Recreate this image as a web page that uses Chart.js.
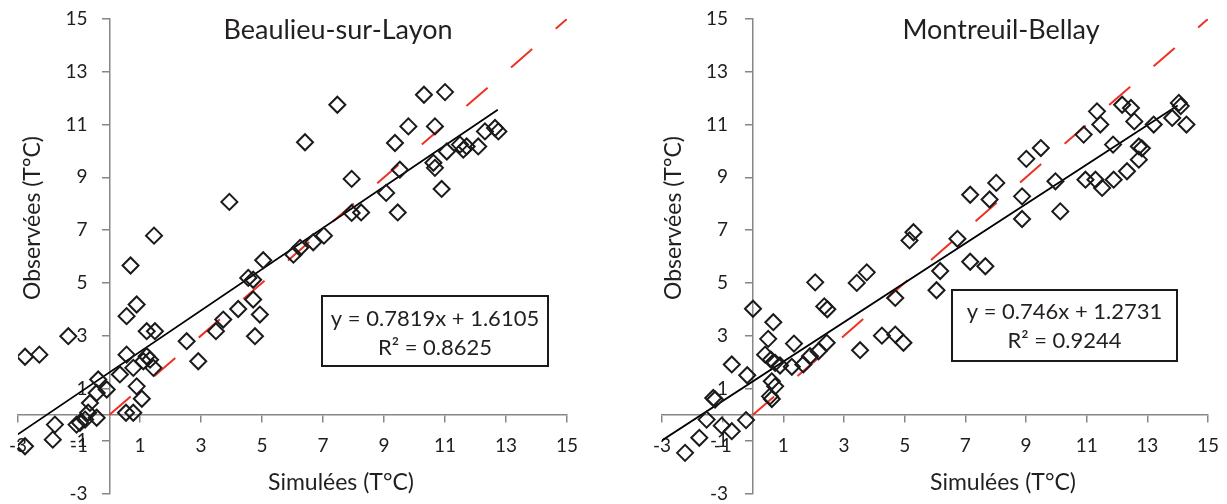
<!DOCTYPE html>
<html>
<head>
<meta charset="utf-8">
<script src="https://cdn.jsdelivr.net/npm/chart.js@4.4.0/dist/chart.umd.min.js"></script>
<style>
  body { margin: 0; background: #fff; }
  .panel { position: absolute; top: 0; height: 504px; }
</style>
</head>
<body>
<div class="panel" style="left:0;width:614px"><canvas id="leftChart"></canvas></div>
<div class="panel" style="left:614px;width:613px"><canvas id="rightChart"></canvas></div>
<script>
// Beaulieu-sur-Layon : simulées (x) / observées (y)
const beaulieuSim = [-2.77,-2.30,-1.35,-2.77,-1.86,-1.79,-1.08,-0.97,-0.80,-0.70,
  -0.42,-0.64,-0.42,-0.37,-0.09,0.56,0.89,0.56,0.34,0.78,
  0.89,1.06,0.54,0.78,1.22,1.33,1.11,1.44,1.22,1.49,
  0.69,1.46,2.53,2.91,3.49,3.73,4.22,4.77,4.93,4.71,
  3.93,5.04,4.55,4.71,6.03,6.25,6.68,7.03,6.41,7.47,
  10.31,11.00,7.94,9.80,10.67,9.36,9.52,9.07,9.45,10.89,
  10.62,10.67,11.06,11.49,11.60,11.71,12.09,12.31,12.64,12.75,
  7.94,8.25];
const beaulieuObs = [2.20,2.28,2.98,-1.19,-0.94,-0.37,-0.37,-0.30,-0.18,0.08,
  -0.11,0.45,0.83,1.34,0.96,3.74,4.18,2.28,1.53,1.78,
  1.08,0.61,0.08,0.08,2.22,2.09,2.03,1.78,3.17,3.17,
  5.66,6.79,2.79,2.03,3.17,3.61,4.01,2.98,3.80,4.37,
  8.07,5.86,5.19,5.12,6.07,6.33,6.54,6.79,10.33,11.75,
  12.13,12.23,8.94,10.93,10.93,10.30,9.29,8.41,7.67,8.56,
  9.55,9.36,9.98,10.24,10.05,10.17,10.17,10.74,10.87,10.74,
  7.65,7.67];

// Montreuil-Bellay
const montreuilSim = [0.00,0.67,0.50,0.40,0.59,0.73,0.89,1.28,1.35,-0.70,
  -0.19,0.62,0.73,0.56,0.62,-1.31,-1.25,-1.53,-1.03,-0.70,
  -0.23,-1.77,-2.24,1.66,1.88,2.16,2.43,2.05,2.35,2.45,
  3.42,3.75,3.53,4.25,4.69,4.69,4.96,5.29,5.16,6.74,
  6.17,6.05,7.16,7.66,7.16,7.80,8.02,8.87,8.87,9.01,
  9.49,9.97,10.13,10.90,10.96,11.29,11.51,11.34,11.45,11.87,
  11.89,12.33,12.17,12.46,12.57,12.72,12.82,12.72,13.21,13.82,
  14.04,14.10,14.29];
const montreuilObs = [4.02,3.51,2.88,2.28,2.09,1.97,1.87,1.82,2.70,1.91,
  1.50,1.27,1.08,0.70,0.60,0.64,0.58,-0.18,-0.41,-0.62,
  -0.20,-0.87,-1.44,1.91,2.22,2.41,2.73,5.02,4.11,4.00,
  5.00,5.40,2.45,3.00,4.43,3.04,2.73,6.92,6.61,6.67,
  5.45,4.72,5.80,5.63,8.34,8.16,8.79,8.28,7.42,9.70,
  10.11,8.85,7.71,10.62,8.91,8.91,8.60,11.50,11.00,10.24,
  8.91,9.23,11.75,11.63,11.12,10.17,10.10,9.67,11.00,11.25,
  11.82,11.70,11.00];

// droites de tendance (extrémités)
const beaulieuTrendX = [-3.07, 12.73];
const beaulieuTrendY = [-0.79, 11.56];
const montreuilTrendX = [-3.15, 14.0];
const montreuilTrendY = [-1.08, 11.72];

// droite 1:1
const identityX = [0, 15];
const identityY = [0, 15];

const axisMin = -3;
const axisMax = 15;
const axisStep = 2;

const toPoints = (xs, ys) => xs.map((x, i) => ({x: x, y: ys[i]}));

// tick labels drawn next to the axes that cross at 0
const axisLabels = {
  id: 'axisLabels',
  beforeDatasetsDraw(chart, args, o) {
    const ctx = chart.ctx;
    const xs = chart.scales.x, ys = chart.scales.y;
    const x0 = xs.getPixelForValue(0), y0 = ys.getPixelForValue(0);
    ctx.save();
    ctx.fillStyle = '#1e1e1e';
    ctx.font = '19px Lato';
    ctx.textBaseline = 'middle';
    ctx.textAlign = 'center';
    xs.ticks.forEach(t => ctx.fillText(String(t.value), xs.getPixelForValue(t.value), y0 + 31));
    ctx.textAlign = 'right';
    ys.ticks.forEach(t => ctx.fillText(String(t.value), x0 - o.yGap, ys.getPixelForValue(t.value)));
    ctx.restore();
  }
};

const panelText = {
  id: 'panelText',
  afterDraw(chart, args, o) {
    const ctx = chart.ctx;
    ctx.save();
    ctx.fillStyle = '#231f20';
    ctx.textAlign = 'center';
    ctx.textBaseline = 'alphabetic';
    ctx.font = '27px Lato';
    ctx.fillText(o.title, o.titleX, 39);
    ctx.font = '23px Lato';
    ctx.fillText('Simulées (T°C)', o.xTitleX, 490);
    ctx.save();
    ctx.translate(o.yTitleX, 218);
    ctx.rotate(-Math.PI / 2);
    ctx.fillText('Observées (T°C)', 0, 0);
    ctx.restore();

    const b = o.box;
    ctx.fillStyle = '#fff';
    ctx.fillRect(b.x, b.y, b.w, b.h);
    ctx.strokeStyle = '#1a1a1a';
    ctx.lineWidth = 2;
    ctx.strokeRect(b.x, b.y, b.w, b.h);
    ctx.fillStyle = '#231f20';
    ctx.font = '22px Lato';
    ctx.fillText(o.eq, b.x + b.w / 2, b.line1);
    ctx.fillText(o.r2, b.x + b.w / 2, b.line2);
    ctx.restore();
  }
};

function axis(pos) {
  return {
    type: 'linear',
    min: axisMin,
    max: axisMax,
    position: pos,
    ticks: {stepSize: axisStep, display: false},
    grid: {drawOnChartArea: false, drawTicks: true, tickLength: 7, color: '#8a8684', lineWidth: 1.5},
    border: {color: '#8a8684', width: 1.5}
  };
}

function makeChart(id, sim, obs, trendX, trendY, padding, yGap, text) {
  return new Chart(document.getElementById(id), {
    type: 'scatter',
    data: {
      datasets: [
        {
          label: 'observations',
          data: toPoints(sim, obs),
          pointStyle: 'rectRot',
          pointRadius: 8,
          pointBorderWidth: 2,
          borderColor: '#1a1a1a',
          backgroundColor: 'rgba(0,0,0,0)',
          showLine: false
        },
        {
          label: 'tendance',
          data: toPoints(trendX, trendY),
          showLine: true,
          borderColor: '#000',
          borderWidth: 1.75,
          pointRadius: 0
        },
        {
          label: '1:1',
          data: toPoints(identityX, identityY),
          showLine: true,
          borderColor: '#ee3124',
          borderWidth: 2,
          borderDash: [28, 31],
          pointRadius: 0
        }
      ]
    },
    options: {
      responsive: true,
      maintainAspectRatio: false,
      animation: false,
      layout: {padding: padding},
      scales: {
        x: axis({y: 0}),
        y: axis({x: 0})
      },
      plugins: {
        legend: {display: false},
        tooltip: {enabled: false},
        axisLabels: {yGap: yGap},
        panelText: text
      }
    },
    plugins: [axisLabels, panelText]
  });
}

makeChart('leftChart', beaulieuSim, beaulieuObs, beaulieuTrendX, beaulieuTrendY,
  {left: 18, right: 47, top: 19, bottom: 9}, 22,
  {
    title: 'Beaulieu-sur-Layon', titleX: 338, xTitleX: 341, yTitleX: 40,
    eq: 'y = 0.7819x + 1.6105', r2: 'R² = 0.8625',
    box: {x: 322, y: 296, w: 226, h: 70, line1: 326, line2: 355}
  });

makeChart('rightChart', montreuilSim, montreuilObs, montreuilTrendX, montreuilTrendY,
  {left: 48, right: 19, top: 19, bottom: 9}, 25,
  {
    title: 'Montreuil-Bellay', titleX: 387, xTitleX: 389, yTitleX: 67,
    eq: 'y = 0.746x + 1.2731', r2: 'R² = 0.9244',
    box: {x: 338, y: 290, w: 225, h: 71, line1: 319, line2: 348}
  });
</script>
</body>
</html>
